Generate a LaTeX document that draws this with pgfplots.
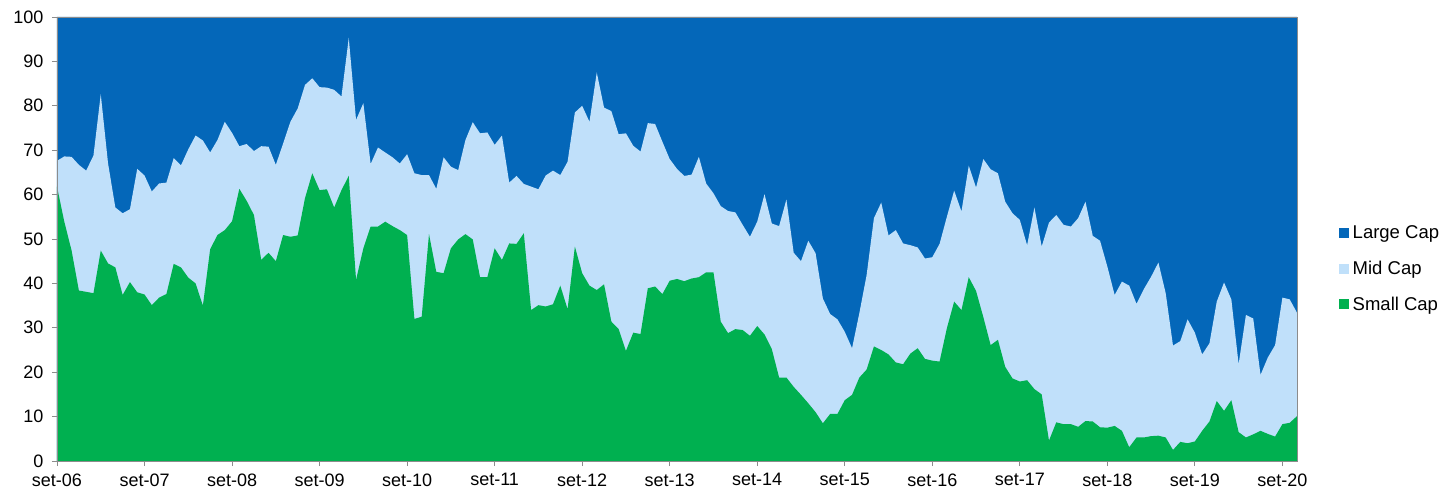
\documentclass[border=0pt]{standalone}
\usepackage{fontspec}
\setmainfont{Liberation Sans}
\usepackage{pgfplots}
\usepackage{pgfplotstable}
\pgfplotsset{compat=1.18}
\definecolor{largec}{RGB}{4,103,185}
\definecolor{midc}{RGB}{192,224,250}
\definecolor{smallc}{RGB}{0,176,80}
\definecolor{axgray}{RGB}{140,140,140}
% x = months since Sep 2006; small = Small Cap share; smallmid = Small + Mid; all = Small + Mid + Large
\pgfplotstableread{
x small smallmid all
0 61.8 67.6 100
1 53.9 68.6 100
2 47.4 68.5 100
3 38.4 66.7 100
4 38.1 65.4 100
5 37.8 68.8 100
6 47.4 82.6 100
7 44.5 67.0 100
8 43.6 57.1 100
9 37.4 55.8 100
10 40.3 56.7 100
11 38.0 65.8 100
12 37.5 64.3 100
13 35.1 60.7 100
14 36.8 62.5 100
15 37.6 62.7 100
16 44.4 68.2 100
17 43.6 66.6 100
18 41.3 70.2 100
19 40.0 73.3 100
20 35.0 72.2 100
21 47.7 69.5 100
22 50.9 72.3 100
23 52.0 76.4 100
24 54.0 73.9 100
25 61.3 70.9 100
26 58.6 71.4 100
27 55.4 69.8 100
28 45.3 70.9 100
29 46.9 70.8 100
30 45.0 66.7 100
31 50.9 71.5 100
32 50.5 76.4 100
33 50.8 79.4 100
34 59.2 84.7 100
35 64.8 86.2 100
36 61.0 84.2 100
37 61.2 84.1 100
38 57.1 83.6 100
39 61.0 82.1 100
40 64.2 95.3 100
41 40.8 76.8 100
42 47.9 80.6 100
43 52.8 66.9 100
44 52.8 70.6 100
45 53.9 69.5 100
46 52.9 68.4 100
47 52.0 67.0 100
48 50.9 69.1 100
49 32.0 64.8 100
50 32.5 64.4 100
51 51.1 64.4 100
52 42.6 61.3 100
53 42.3 68.4 100
54 47.9 66.3 100
55 49.9 65.5 100
56 51.1 72.3 100
57 49.9 76.3 100
58 41.4 73.8 100
59 41.4 74.0 100
60 47.9 71.2 100
61 45.3 73.3 100
62 49.0 62.7 100
63 48.9 64.2 100
64 51.3 62.4 100
65 34.0 61.8 100
66 35.1 61.2 100
67 34.8 64.3 100
68 35.3 65.4 100
69 39.5 64.4 100
70 34.2 67.4 100
71 48.3 78.5 100
72 42.3 80.0 100
73 39.5 76.4 100
74 38.5 87.5 100
75 39.8 79.6 100
76 31.4 78.8 100
77 29.7 73.6 100
78 24.8 73.8 100
79 28.9 71.0 100
80 28.6 69.7 100
81 38.9 76.1 100
82 39.3 75.9 100
83 37.6 71.9 100
84 40.6 68.0 100
85 41.0 65.8 100
86 40.5 64.2 100
87 41.1 64.5 100
88 41.4 68.5 100
89 42.5 62.5 100
90 42.5 60.3 100
91 31.4 57.4 100
92 28.8 56.3 100
93 29.7 56.0 100
94 29.5 53.2 100
95 28.2 50.5 100
96 30.4 53.9 100
97 28.5 60.1 100
98 25.2 53.5 100
99 18.8 52.9 100
100 18.8 58.9 100
101 16.7 46.9 100
102 14.9 45.0 100
103 13.0 49.6 100
104 11.0 46.8 100
105 8.5 36.6 100
106 10.6 33.1 100
107 10.6 31.9 100
108 13.7 29.1 100
109 14.9 25.4 100
110 18.8 33.3 100
111 20.6 41.9 100
112 25.8 54.7 100
113 25.0 58.2 100
114 24.0 50.8 100
115 22.2 52.0 100
116 21.8 49.0 100
117 24.2 48.6 100
118 25.4 48.1 100
119 23.0 45.6 100
120 22.6 45.9 100
121 22.4 48.9 100
122 29.9 55.0 100
123 35.9 60.9 100
124 34.0 56.2 100
125 41.4 66.5 100
126 38.3 61.6 100
127 32.4 68.0 100
128 26.1 65.7 100
129 27.3 64.8 100
130 21.2 58.4 100
131 18.6 55.8 100
132 17.9 54.3 100
133 18.2 48.6 100
134 16.2 57.1 100
135 15.0 48.3 100
136 4.6 53.7 100
137 8.7 55.4 100
138 8.3 53.2 100
139 8.3 52.8 100
140 7.7 54.7 100
141 9.0 58.4 100
142 8.9 50.7 100
143 7.6 49.6 100
144 7.5 43.8 100
145 7.9 37.4 100
146 6.8 40.4 100
147 3.1 39.5 100
148 5.3 35.4 100
149 5.3 38.7 100
150 5.6 41.5 100
151 5.7 44.7 100
152 5.3 37.8 100
153 2.5 26.0 100
154 4.3 27.0 100
155 4.0 31.9 100
156 4.4 28.9 100
157 6.8 24.0 100
158 8.9 26.5 100
159 13.5 35.9 100
160 11.3 40.2 100
161 13.7 36.4 100
162 6.5 21.8 100
163 5.3 32.9 100
164 6.0 32.1 100
165 6.8 19.4 100
166 6.1 23.3 100
167 5.5 26.1 100
168 8.3 36.8 100
169 8.6 36.4 100
170 10.1 33.4 100
}\capdata
\begin{document}
\begin{tikzpicture}
\useasboundingbox (-57pt,-32pt) rectangle (1386pt,461pt);
\begin{axis}[
  scale only axis,
  width=1240pt, height=444pt,
  at={(0pt,0pt)}, anchor=south west,
  xmin=0, xmax=170, ymin=0, ymax=100,
  ytick={0,10,...,100},
  xtick={0,12,...,168},
  xticklabels={set-06,set-07,set-08,set-09,set-10,set-11,set-12,set-13,set-14,set-15,set-16,set-17,set-18,set-19,set-20},
  tick align=outside,
  tick pos=left,
  major tick length=5pt,
  axis on top,
  axis line style={draw=axgray, line width=0.8pt},
  tick style={draw=axgray, line width=0.8pt},
  /pgf/number format/assume math mode=true,
  ticklabel style={font=\fontsize{18}{21}\selectfont, text=black},
  yticklabel style={xshift=-5pt},
  xticklabel style={yshift=-4pt},
  legend cell align=left,
  legend style={at={(1.0335,0.433)}, anchor=west, draw=none, fill=none,
    font=\fontsize{18.5}{22}\selectfont, row sep=17pt, inner sep=0pt,
    column sep=2pt,
    nodes={inner sep=2pt}},
  legend image code/.code={\fill[#1, draw=none] (0pt,-5pt) rectangle (10pt,5pt);},
]
\addplot[draw=none, fill=largec] table[x=x, y=all]{\capdata} \closedcycle;
\addlegendentry{Large Cap}
\addplot[draw=none, fill=midc] table[x=x, y=smallmid]{\capdata} \closedcycle;
\addlegendentry{Mid Cap}
\addplot[draw=none, fill=smallc] table[x=x, y=small]{\capdata} \closedcycle;
\addlegendentry{Small Cap}
\end{axis}
\end{tikzpicture}
\end{document}
